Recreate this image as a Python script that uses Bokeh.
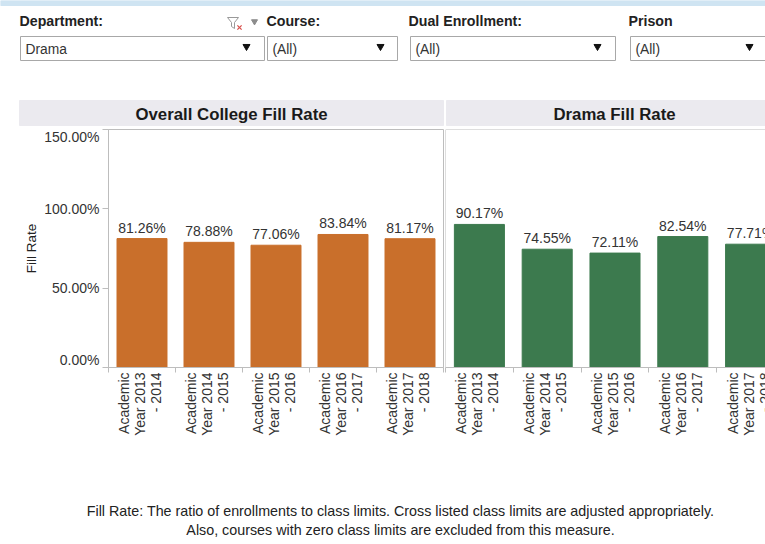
import math
from bokeh.plotting import figure
from bokeh.layouts import column, row
from bokeh.models import Range1d, FixedTicker, LinearAxis, Span, ColumnDataSource
from bokeh.core.properties import value
from bokeh.embed import file_html
from bokeh.resources import INLINE

years = ["Academic\nYear 2013\n- 2014", "Academic\nYear 2014\n- 2015", "Academic\nYear 2015\n- 2016",
         "Academic\nYear 2016\n- 2017", "Academic\nYear 2017\n- 2018"]
college_rate = [81.26, 78.88, 77.06, 83.84, 81.17]
drama_rate = [90.17, 74.55, 72.11, 82.54, 77.71]
y_ticks = [0, 50, 100, 150]
y_tick_labels = ["0.00%", "50.00%", "100.00%", "150.00%"]
y_title = "Fill Rate"
filters = ["Department:", "Course:", "Dual Enrollment:", "Prison"]
filter_values = ["Drama", "(All)", "(All)", "(All)"]
panel_titles = ["Overall College Fill Rate", "Drama Fill Rate"]
footnotes = ["Fill Rate: The ratio of enrollments to class limits. Cross listed class limits are adjusted appropriately.",
             "Also, courses with zero class limits are excluded from this measure."]

FONT = value("Liberation Sans")
GRAY = "#BDBDBD"
TXT = "#333333"


def page_fig(w, h, y0):
    p = figure(width=w, height=h, x_range=Range1d(0, w), y_range=Range1d(y0 + h, y0),
               output_backend="svg", toolbar_location=None, min_border=0,
               outline_line_color=None)
    p.axis.visible = False
    p.grid.visible = False
    return p


# ---- top strip: filters and panel headers ----
top = page_fig(765, 127, 0)
top.quad(left=[0], right=[765], top=[0], bottom=[5], color="#CFE4F2")
fx = [19, 266, 408, 628]
bx = [(20, 264), (267, 397), (410, 615), (630, 775)]
top.text(x=fx, y=[20.5] * 4, text=filters, text_font=FONT, text_font_style="bold",
         text_font_size="14.2px", text_color="#222222", text_baseline="middle")
top.quad(left=[b[0] for b in bx], right=[b[1] for b in bx], top=[36] * 4, bottom=[60] * 4,
         fill_color="white", line_color="#A8A8A8", line_width=1)
top.text(x=[b[0] + 5 for b in bx], y=[48.5] * 4, text=filter_values, text_font=FONT,
         text_font_size="13.8px", text_color=TXT, text_baseline="middle")
top.scatter(x=[246, 380, 597, 749], y=[46] * 4, marker="inverted_triangle", size=7, color="#111111")
# filter-clear icon
top.line(x=[227, 238, 234, 234, 231, 231, 227], y=[17, 17, 22, 28, 26, 22, 17], line_color="#999999", line_width=1)
top.scatter(x=[239], y=[27], marker="x", size=6, line_color="#D9534F", line_width=1.3)
top.scatter(x=[254], y=[21], marker="inverted_triangle", size=6, color="#8C8C8C")
# panel headers
top.quad(left=[19, 446], right=[443, 765], top=[100, 100], bottom=[125, 125], color="#EBEAEF")
top.text(x=[231, 614], y=[114, 114], text=panel_titles, text_font=FONT, text_font_style="bold",
         text_font_size="16.8px", text_color="#1A1A1A", text_align="center", text_baseline="middle")

# ---- gutter holding the value-axis labels, on the same 0-150 scale as the bars ----
gutter = figure(width=101, height=318, x_range=Range1d(0, 101), y_range=Range1d(0, 150),
                output_backend="svg", toolbar_location=None, min_border=0, min_border_top=2,
                min_border_bottom=78, outline_line_color=None, x_axis_location=None, y_axis_location=None)
gutter.grid.visible = False
gutter.text(x=[99] * 4, y=y_ticks, text=y_tick_labels, y_offset=[-8, 0, 0, 7], text_font=FONT,
            text_font_size="14px", text_color=TXT, text_align="right", text_baseline="middle")
gutter.text(x=[31], y=[75], text=[y_title], angle=math.pi / 2, text_font=FONT, text_font_size="13.5px",
            text_color="#222222", text_align="center", text_baseline="middle")


def chart(values, color, width, frame_left, x_end, bar_w, left_panel):
    p = figure(width=width, height=318, x_range=Range1d(0, x_end), y_range=Range1d(0, 150),
               output_backend="svg", toolbar_location=None, min_border_top=2, min_border_bottom=78,
               min_border_left=frame_left, min_border_right=1 if left_panel else 0,
               x_axis_location=None, y_axis_location=None)
    p.grid.visible = False
    centers = [i + 0.5 for i in range(len(values))]
    src = ColumnDataSource(dict(x=centers, top=values, label=[f"{v:.2f}%" for v in values]))
    p.vbar(x="x", top="top", bottom=0, width=bar_w, color=color, source=src)
    p.text(x="x", y="top", text="label", source=src, text_font=FONT, text_font_size="14px",
           text_color=TXT, text_align="center", text_baseline="bottom", y_offset=-3)

    label_at = [c - 0.03 for c in centers]
    xa = LinearAxis(ticker=FixedTicker(ticks=label_at, minor_ticks=list(range(len(values) + 1))),
                    major_label_overrides={c: y for c, y in zip(label_at, years)},
                    major_label_orientation=math.pi / 2, major_label_standoff=0,
                    major_label_text_font="Liberation Sans", major_label_text_font_size="14px",
                    major_label_text_color=TXT, major_label_text_line_height=1.0,
                    axis_line_color=GRAY, major_tick_line_color=None, major_tick_out=0, major_tick_in=0,
                    minor_tick_line_color=GRAY, minor_tick_out=5, minor_tick_in=0)
    p.add_layout(xa, "below")

    if left_panel:
        ya = LinearAxis(ticker=FixedTicker(ticks=y_ticks),
                        major_label_overrides={v: "" for v in y_ticks},
                        major_label_standoff=0,
                        axis_line_color=GRAY, major_tick_line_color=GRAY, major_tick_out=6,
                        major_tick_in=0, minor_tick_line_color=None)
        p.add_layout(ya, "left")
        p.outline_line_color = GRAY
    else:
        p.outline_line_color = None
        p.add_layout(Span(location=0, dimension="height", line_color=GRAY, line_width=1))
        p.add_layout(Span(location=150, dimension="width", line_color=GRAY, line_width=1))
    return p


left = chart(college_rate, "#C96F2B", 343, 7, 5, 0.746, True)
# the Drama panel runs past the page's right edge, where the reference cuts it off
right = chart(drama_rate, "#3C7A4E", 346, 1, 345 / 67.8, 0.738, False)

# ---- footnote ----
foot = page_fig(765, 99, 445)
foot.text(x=[400, 400], y=[510, 529], text=footnotes, text_font=FONT, text_font_size="14.3px",
          text_color="#222222", text_align="center", text_baseline="middle")

charts = row(gutter, left, right, spacing=0, width=765, height=318, styles={"overflow": "hidden"})
layout = column(top, charts, foot, spacing=0, width=765, styles={"overflow": "hidden"})
open("out.html", "w").write(file_html(layout, INLINE))
